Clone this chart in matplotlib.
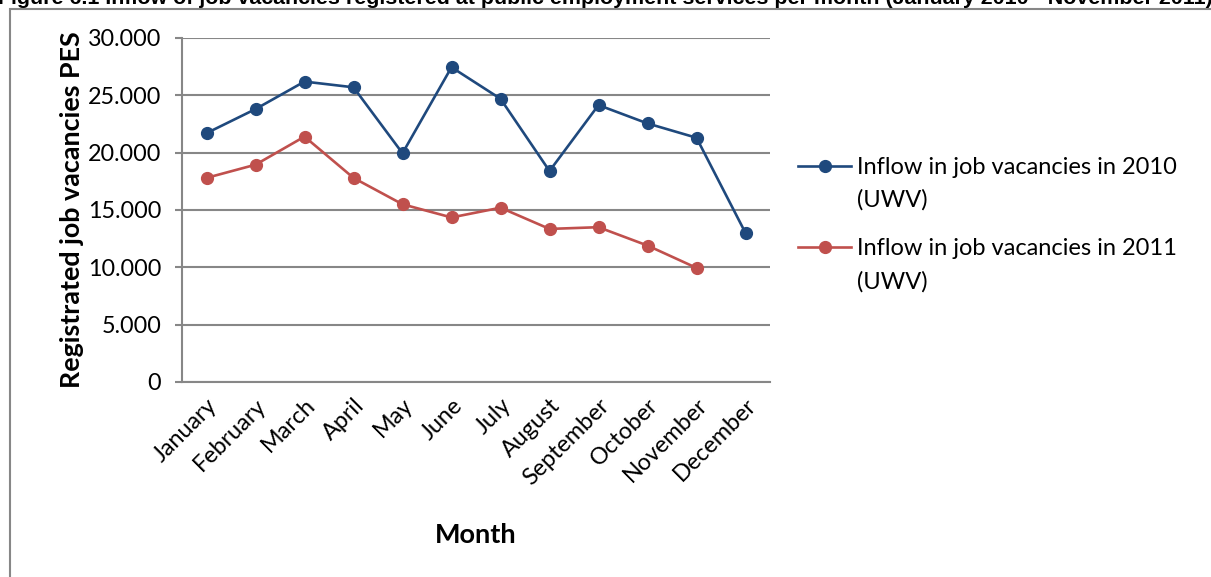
import matplotlib
matplotlib.use("Agg")
import matplotlib.pyplot as plt
from matplotlib.patches import Rectangle

months = ["January", "February", "March", "April", "May", "June", "July",
          "August", "September", "October", "November", "December"]
inflow_2010 = [21700, 23800, 26200, 25700, 19950, 27450, 24700,
               18400, 24150, 22550, 21300, 13000]
inflow_2011 = [17800, 18950, 21400, 17800, 15500, 14350, 15200,
               13350, 13500, 11900, 9950]
yticks = [0, 5000, 10000, 15000, 20000, 25000, 30000]
ytick_labels = ["0", "5.000", "10.000", "15.000", "20.000", "25.000", "30.000"]
series_names = ["Inflow in job vacancies in 2010", "Inflow in job vacancies in 2011"]
series_source = "(UWV)"

blue = "#1F497D"
red = "#C0504D"
grey = "#878787"
body_font = "Lato"

W, H = 1211, 577
fig = plt.figure(figsize=(W / 100, H / 100), dpi=100)

# chart frame (runs off the right/bottom edge like the source)
fig.add_artist(Rectangle((10 / W, -0.1), 1.2, 1 - 9 / H + 0.1,
                         transform=fig.transFigure, fill=False,
                         edgecolor=grey, linewidth=1.5))

# caption, cropped at the top in the source image
fig.text(-2 / W, 1 - 4 / H,
         "Figure 6.1 Inflow of job vacancies registered at public employment "
         "services per month (January 2010 - November 2011)",
         family="Liberation Sans", weight="bold", fontsize=15.4,
         ha="left", va="baseline")

ax = fig.add_axes([182 / W, 1 - 382 / H, 588 / W, 344 / H])
x = list(range(len(months)))
ax.plot(x, inflow_2010, color=blue, lw=1.9, marker="o", ms=8.5,
        label=series_names[0])
ax.plot(x[:len(inflow_2011)], inflow_2011, color=red, lw=1.9, marker="o",
        ms=8.5, label=series_names[1])

ax.set_xlim(-0.5, len(months) - 0.5)
ax.set_ylim(0, 30000)
ax.set_yticks(yticks)
ax.set_yticklabels(ytick_labels, family=body_font, fontsize=16.8)
ax.set_xticks(x)
ax.set_xticklabels(months, family=body_font, fontsize=16.8, rotation=45,
                   ha="right", rotation_mode="anchor")
ax.tick_params(axis="x", length=0, pad=9)
ax.tick_params(axis="y", length=5, width=1.5, color=grey, pad=10)
ax.grid(axis="y", color=grey, lw=1.5)
ax.set_axisbelow(True)
for s in ["top", "right"]:
    ax.spines[s].set_visible(False)
for s in ["left", "bottom"]:
    ax.spines[s].set_color(grey)
    ax.spines[s].set_linewidth(1.5)

ax.set_ylabel("Registrated job vacancies PES", family=body_font,
              weight="bold", fontsize=19.4, labelpad=3)
ax.set_xlabel("Month", family=body_font, weight="bold", fontsize=19.5,
              labelpad=25)

leg = ax.legend(loc="upper left", bbox_to_anchor=(798 / W, 1 - 157 / H),
                bbox_transform=fig.transFigure, frameon=False,
                prop={"family": body_font, "size": 17}, handlelength=2.25,
                handletextpad=0.25, labelspacing=2.55, borderaxespad=0,
                borderpad=0)

# second line of each legend entry, under the text (marker stays on line 1)
fig.canvas.draw()
inv = fig.transFigure.inverted()
for t in leg.get_texts():
    bb = t.get_window_extent()
    fx, fy = inv.transform((bb.x0, bb.y0))
    fig.text(fx, fy - 33 / H, series_source, ha="left", va="bottom",
             family=body_font, fontsize=17)

fig.savefig("out.png", dpi=100)
